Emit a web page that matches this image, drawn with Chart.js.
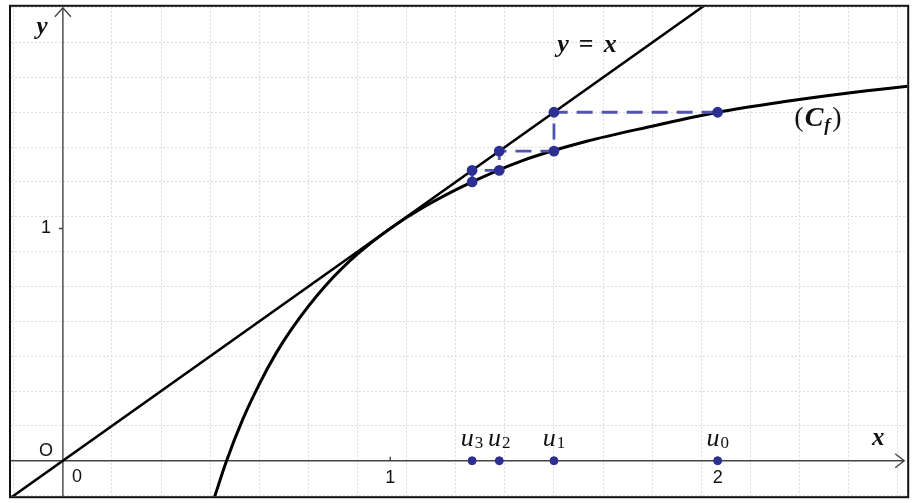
<!DOCTYPE html>
<html>
<head>
<meta charset="utf-8">
<script src="https://cdn.jsdelivr.net/npm/chart.js@4.4.1/dist/chart.umd.min.js"></script>
<style>
  html, body { margin: 0; padding: 0; background: #fff; }
  canvas { display: block; }
</style>
</head>
<body>
<canvas id="myChart" width="914" height="503"></canvas>
<script>
// courbe (Cf)
const curveX = [0.46, 0.5, 0.55, 0.6, 0.65, 0.7, 0.8, 0.9, 1, 1.1, 1.25, 1.4, 1.6, 1.8, 2, 2.2, 2.4, 2.6];
const curveY = [-0.17, 0, 0.18, 0.33, 0.46, 0.57, 0.75, 0.89, 1, 1.09, 1.2, 1.29, 1.375, 1.44, 1.5, 1.545, 1.583, 1.615];
// droite y = x
const diagX = [-0.2, 2.1];
const diagY = [-0.2, 2.1];
// escalier (pointillés bleus)
const stepX = [2, 1.5, 1.5, 1.333, 1.333, 1.25, 1.25];
const stepY = [1.5, 1.5, 1.333, 1.333, 1.25, 1.25, 1.2];
// termes de la suite sur l'axe des x
const seqIdx = ['0', '1', '2', '3'];
const seqX = [2, 1.5, 1.333, 1.25];
// graduations
const xTicks = [1, 2];
const yTicks = [1];

const ctx = document.getElementById('myChart');

const pts = (xs, ys) => xs.map((x, i) => ({ x: x, y: ys[i] }));

const mathFont = (size, bold) => 'italic ' + (bold ? 'bold ' : '') + size + 'px "Liberation Serif", serif';

function drawRuns(c, cx, cy, runs) {
  let w = 0;
  runs.forEach(r => { c.font = r.font; w += c.measureText(r.t).width + (r.gap || 0); });
  let x = cx - w / 2;
  c.textAlign = 'left';
  c.textBaseline = 'middle';
  runs.forEach(r => {
    c.font = r.font;
    c.fillText(r.t, x, cy + (r.dy || 0));
    x += c.measureText(r.t).width + (r.gap || 0);
  });
}

const axesPlugin = {
  id: 'axes',
  beforeDatasetsDraw(chart) {
    const c = chart.ctx;
    const xs = chart.scales.x, ys = chart.scales.y;
    const a = chart.chartArea;
    const ox = xs.getPixelForValue(0), oy = ys.getPixelForValue(0);
    c.save();
    c.strokeStyle = '#444';
    c.lineWidth = 1.4;
    c.beginPath();
    c.moveTo(a.left, oy); c.lineTo(a.right - 3, oy);
    c.moveTo(ox, a.bottom); c.lineTo(ox, a.top + 1);
    // fleches
    c.moveTo(a.right - 12, oy - 7); c.lineTo(a.right - 3, oy); c.lineTo(a.right - 12, oy + 7);
    c.moveTo(ox - 8, a.top + 10); c.lineTo(ox, a.top + 1); c.lineTo(ox + 8, a.top + 10);
    // graduations
    xTicks.forEach(v => { const p = xs.getPixelForValue(v); c.moveTo(p, oy - 4); c.lineTo(p, oy); });
    yTicks.forEach(v => { const p = ys.getPixelForValue(v); c.moveTo(ox - 4, p); c.lineTo(ox, p); });
    c.stroke();

    c.fillStyle = '#111';
    c.font = '18px "Liberation Sans", Arial, sans-serif';
    c.textAlign = 'center';
    c.textBaseline = 'middle';
    xTicks.forEach(v => c.fillText(String(v), xs.getPixelForValue(v), oy + 17));
    yTicks.forEach(v => c.fillText(String(v), ox - 17, ys.getPixelForValue(v)));
    c.fillText('0', ox + 14, oy + 16);
    c.fillText('O', ox - 17, oy - 10);
    c.restore();
  },
  afterDraw(chart) {
    const c = chart.ctx;
    const xs = chart.scales.x, ys = chart.scales.y;
    const a = chart.chartArea;
    const oy = ys.getPixelForValue(0);
    c.save();
    c.fillStyle = '#111';
    // noms des axes
    drawRuns(c, 42, 28, [{ t: 'y', font: mathFont(25, true) }]);
    drawRuns(c, a.right - 29, oy - 22, [{ t: 'x', font: mathFont(25, true) }]);
    drawRuns(c, 587, 45, [
      { t: 'y', font: mathFont(26, true), gap: 10 },
      { t: '=', font: 'bold 26px "Liberation Serif", serif', gap: 10 },
      { t: 'x', font: mathFont(26, true) }
    ]);
    drawRuns(c, 818, 119, [
      { t: '(', font: '28px "Liberation Serif", serif', gap: 1 },
      { t: 'C', font: mathFont(28, true), gap: 1 },
      { t: 'f', font: mathFont(18, true), dy: 7, gap: 2 },
      { t: ')', font: '28px "Liberation Serif", serif' }
    ]);
    // u0, u1, u2, u3
    seqX.forEach((v, i) => {
      drawRuns(c, xs.getPixelForValue(v), oy - 22, [
        { t: 'u', font: mathFont(26, false), gap: 1 },
        { t: seqIdx[i], font: '17px "Liberation Serif", serif', dy: 5 }
      ]);
    });
    // cadre
    c.strokeStyle = '#111';
    c.lineWidth = 2;
    c.strokeRect(a.left - 1, a.top - 1, a.right - a.left + 2, a.bottom - a.top + 2);
    c.restore();
  }
};

const gridOpts = { color: '#dcdcdc', lineWidth: 1, drawTicks: false };

new Chart(ctx, {
  type: 'scatter',
  data: {
    datasets: [
      {
        label: 'u',
        data: pts(seqX, seqX.map(() => 0)),
        pointRadius: 4,
        pointBackgroundColor: '#2d2f93',
        pointBorderColor: '#2d2f93',
        showLine: false,
        order: 0
      },
      {
        label: 'escalier',
        data: pts(stepX, stepY),
        showLine: true,
        borderColor: '#5254b2',
        borderWidth: 2.8,
        borderDash: [16, 9],
        pointRadius: 4,
        pointBackgroundColor: '#2d2f93',
        pointBorderColor: '#2d2f93',
        order: 1
      },
      {
        label: '(Cf)',
        data: pts(curveX, curveY),
        showLine: true,
        borderColor: '#000',
        borderWidth: 3,
        pointRadius: 0,
        cubicInterpolationMode: 'monotone',
        order: 2
      },
      {
        label: 'y = x',
        data: pts(diagX, diagY),
        showLine: true,
        borderColor: '#000',
        borderWidth: 2.5,
        pointRadius: 0,
        order: 3
      }
    ]
  },
  options: {
    responsive: false,
    animation: false,
    layout: { padding: { left: 11, right: 5, top: 5, bottom: 5 } },
    plugins: { legend: { display: false }, tooltip: { enabled: false } },
    scales: {
      x: {
        type: 'linear',
        min: -0.1585,
        max: 2.579,
        ticks: { display: false, stepSize: 0.15, includeBounds: false },
        grid: gridOpts,
        border: { display: false, dash: [2, 2] }
      },
      y: {
        type: 'linear',
        min: -0.1526,
        max: 1.954,
        ticks: { display: false, stepSize: 0.15, includeBounds: false },
        grid: gridOpts,
        border: { display: false, dash: [2, 2] }
      }
    }
  },
  plugins: [axesPlugin]
});
</script>
</body>
</html>
